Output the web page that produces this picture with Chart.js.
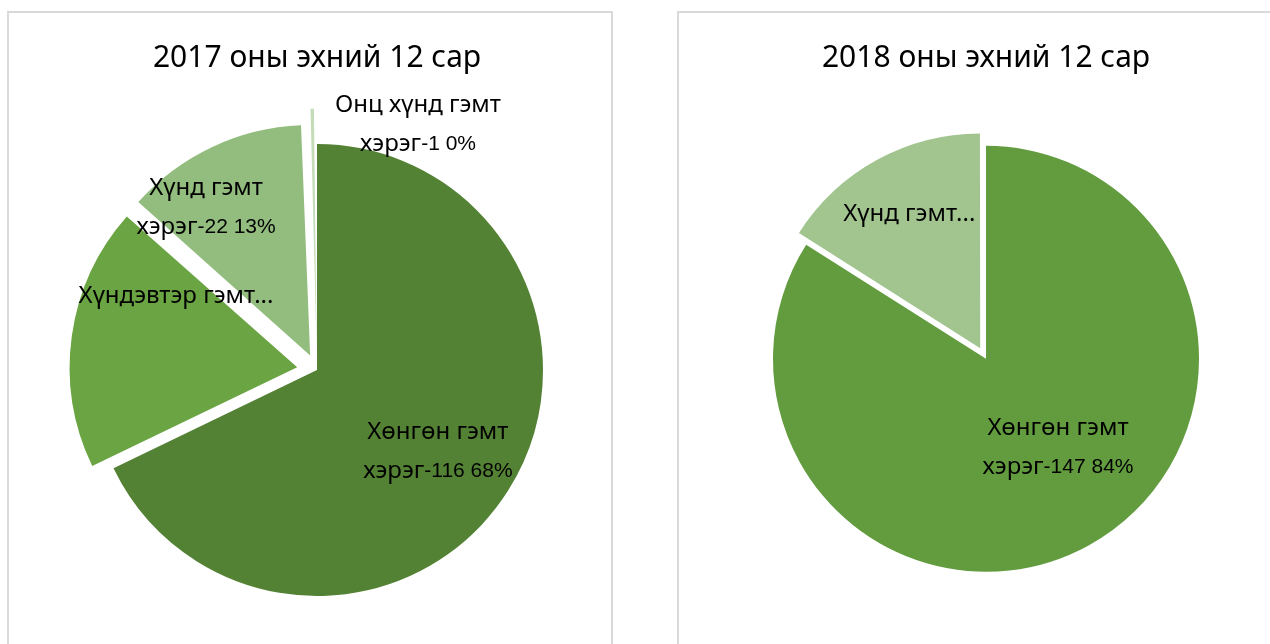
<!DOCTYPE html>
<html>
<head>
<meta charset="utf-8">
<script src="https://cdn.jsdelivr.net/npm/chart.js@4.4.0/dist/chart.umd.min.js"></script>
<style>
    body { margin: 0; background: #fff; overflow: hidden; width: 1270px; height: 644px; position: relative; }
    .panel { position: absolute; border: 2px solid #d9d9d9; background: #fff; }
    .wrap { position: absolute; top: 0; height: 644px; width: 634px; }
</style>
</head>
<body>
<div class="panel" style="left:7px; top:11px; width:602px; height:700px;"></div>
<div class="panel" style="left:677px; top:11px; width:700px; height:700px;"></div>
<div class="wrap" style="left:0px;"><canvas id="chart2017"></canvas></div>
<div class="wrap" style="left:669px;"><canvas id="chart2018"></canvas></div>
<script>
// 2017
const labels2017 = ['Хөнгөн гэмт хэрэг', 'Хүндэвтэр гэмт хэрэг', 'Хүнд гэмт хэрэг', 'Онц хүнд гэмт хэрэг'];
const values2017 = [116, 32, 22, 1];
const percent2017 = [68, 19, 13, 0];
const cut2017 = [false, true, false, false];

// 2018
const labels2018 = ['Хөнгөн гэмт хэрэг', 'Хүнд гэмт хэрэг'];
const values2018 = [147, 28];
const percent2018 = [84, 16];
const cut2018 = [false, true];

const textFont = "'Noto Sans', 'DejaVu Sans', sans-serif";
const numFont = "'Liberation Sans', Arial, sans-serif";

// label block centre, in units of the pie radius, relative to the pie centre
const labelPos2017 = [[0.535, 0.363], [-0.624, -0.327], [-0.491, -0.717], [0.447, -1.084]];
const labelPos2018 = [[0.338, 0.418], [-0.36, -0.681]];

function labelLines(name, value, pct, cut) {
    let words = name.split(' ');
    let first = words.slice(0, words.length - 1).join(' ');
    if (cut) {
        return [[[first + '...', textFont]]];
    }
    return [
        [[first, textFont]],
        [[words[words.length - 1], textFont], ['-' + value + ' ' + pct + '%', numFont]]
    ];
}

function fontFor(f) {
    return (f === numFont ? '21px ' : '24px ') + f;
}

const sliceLabels = {
    id: 'sliceLabels',
    afterDatasetsDraw(chart, args, opts) {
        const ctx = chart.ctx;
        const arcs = chart.getDatasetMeta(0).data;
        const lineGap = 39;
        ctx.save();
        ctx.fillStyle = '#000';
        ctx.textBaseline = 'middle';
        ctx.textAlign = 'left';
        arcs.forEach(function (arc, i) {
            let r = arc.outerRadius;
            let cx = arc.x + opts.pos[i][0] * r;
            let cy = arc.y + opts.pos[i][1] * r;
            let lines = labelLines(opts.names[i], opts.values[i], opts.pct[i], opts.cut[i]);
            let y0 = cy - (lines.length - 1) * lineGap / 2;
            lines.forEach(function (parts, j) {
                let w = 0;
                parts.forEach(function (p) {
                    ctx.font = fontFor(p[1]);
                    w += ctx.measureText(p[0]).width;
                });
                let x = cx - w / 2;
                parts.forEach(function (p) {
                    ctx.font = fontFor(p[1]);
                    ctx.fillText(p[0], x, y0 + j * lineGap);
                    x += ctx.measureText(p[0]).width;
                });
            });
        });
        ctx.restore();
    }
};

function pieChart(id, title, labels, values, pct, cut, colors, offsets, radius, titlePad, bottomPad, pos) {
    const ctx = document.getElementById(id).getContext('2d');
    return new Chart(ctx, {
        type: 'pie',
        data: {
            labels: labels,
            datasets: [{
                data: values,
                backgroundColor: colors,
                borderWidth: 0,
                offset: offsets
            }]
        },
        options: {
            responsive: true,
            maintainAspectRatio: false,
            animation: false,
            radius: radius,
            layout: { padding: { bottom: bottomPad } },
            plugins: {
                legend: { display: false },
                tooltip: { enabled: false },
                title: {
                    display: true,
                    text: title,
                    color: '#000',
                    font: { family: textFont, size: 30, weight: 'normal' },
                    padding: titlePad
                },
                sliceLabels: { names: labels, values: values, pct: pct, cut: cut, pos: pos }
            }
        },
        plugins: [sliceLabels]
    });
}

pieChart('chart2017', '2017 оны эхний 12 сар', labels2017, values2017, percent2017, cut2017,
    ['#548235', '#6aa443', '#93bd7e', '#c5dcb8'], [0, 80, 64, 72], 226,
    { top: 40, bottom: 20 }, 0, labelPos2017);

pieChart('chart2018', '2018 оны эхний 12 сар', labels2018, values2018, percent2018, cut2018,
    ['#629c3f', '#a2c590'], [0, 48], 213,
    { top: 40, bottom: 0 }, 2.4, labelPos2018);
</script>
</body>
</html>
